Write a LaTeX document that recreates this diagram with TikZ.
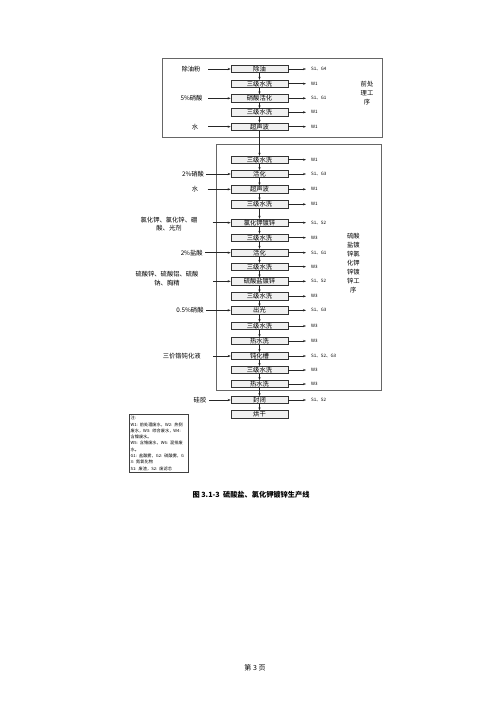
\documentclass[tikz,border=0pt]{standalone}
\usepackage{fontspec}
\newfontfamily\cjk{Noto Sans CJK SC}
\usetikzlibrary{arrows.meta}
\begin{document}
\begin{tikzpicture}[x=1pt,y=-1pt,font=\cjk,
  proc/.style={draw=black!80,fill=gray!12,line width=0.6pt,minimum width=57pt,minimum height=7.2pt,inner sep=0pt,font=\cjk\fontsize{6.3}{6.3}\selectfont},
  lbl/.style={font=\cjk\fontsize{6.3}{8.5}\selectfont,inner sep=0pt,align=center},
  outl/.style={font=\cjk\fontsize{4.5}{5}\selectfont,inner sep=0pt,anchor=west},
  sidel/.style={font=\cjk\fontsize{6.3}{9}\selectfont,inner sep=0pt,align=center},
  arr/.style={-{Stealth[length=3pt,width=2.2pt]},line width=0.5pt,black!85},
  frame/.style={draw=black!60,line width=0.9pt}]
\useasboundingbox (0,0) rectangle (500,707);
\fill[white] (0,0) rectangle (500,707);
% frames
\draw[frame] (162.7,58.3) rectangle (382,137.3);
\draw[frame] (216.7,144.3) rectangle (381,390);
% process boxes with outputs
\foreach \i/\y/\t/\o in {
  1/69/除油/S1、G4,
  2/83.7/三级水洗/W1,
  3/98.3/硝酸活化/S1、G1,
  4/112.3/三级水洗/W1,
  5/126.7/超声波/W1,
  6/159.7/三级水洗/W1,
  7/174/活化/S1、G3,
  8/189.3/超声波/W1,
  9/204.3/三级水洗/W1,
  10/222.7/氯化钾镀锌/S1、S2,
  11/237.7/三级水洗/W3,
  12/252.7/活化/S1、G1,
  13/266.7/三级水洗/W3,
  14/281.3/硫酸盐镀锌/S1、S2,
  15/296.3/三级水洗/W3,
  16/310.3/出光/S1、G3,
  17/326/三级水洗/W3,
  18/341/热水洗/W3,
  19/356/钝化槽/S1、S2、G3,
  20/370/三级水洗/W3,
  21/384/热水洗/W3,
  22/400/封闭/S1、S2}{
  \node[proc] (p\i) at (259.5,\y) {\t};
  \coordinate (q\i) at (306,\y);
  \node[outl] (o\i) at (311,\y) {\o};
  \draw[arr] (p\i.east) -- (q\i);
}
\node[proc] (p23) at (259.5,414.3) {烘干};
% vertical flow
\foreach \i [evaluate=\i as \j using int(\i+1)] in {1,...,22}{
  \draw[arr] (p\i) -- (p\j);
}
% inputs
\foreach \r/\lx/\ly/\ay/\sx/\t in {
  1/191/69/69/208/除油粉,
  3/191.5/98.3/98.3/208/5\%硝酸,
  5/195/126.7/126.7/208/水,
  7/193/174/174/206/2\%硝酸,
  8/195/189.3/189.3/207.7/水,
  10/169/224.3/222.7/212.7/{氯化钾、氯化锌、硼\\酸、光剂},
  12/191.7/252.7/252.7/205/2\%盐酸,
  14/167/278.8/281.3/213/{硫酸锌、硫酸铝、硫酸\\钠、胸精},
  16/190/310.3/310.3/206/0.5\%硝酸,
  19/181.7/356/356/213/三价铬钝化液,
  22/200/400/400/209/硅胶}{
  \node[lbl] (in\r) at (\lx,\ly) {\t};
  \coordinate (s\r) at (\sx,\ay);
  \draw[arr] (s\r) -- (p\r.west);
}
% side labels
\node[sidel] (side1) at (367,92.7) {前处\\理工\\序};
\node[sidel] (side2) at (353.3,263) {硫酸\\盐镀\\锌氯\\化钾\\锌镀\\锌工\\序};
% legend
\node[draw=black!75,line width=0.8pt,anchor=north west,text width=57pt,inner xsep=1.2pt,inner ysep=1.8pt,align=left,
  font=\cjk\fontsize{4.2}{6.3}\selectfont] (legend) at (129,414)
 {注:\\W1: 前处理废水，W2: 热侧\\废水，W3: 综合废水，W4:\\含镍废水。\\W5: 含铬废水，W6: 混排废\\水。\\G1: 盐酸雾，G2: 硫酸雾，G\\3: 氮氧化物\\S1: 废渣，S2: 废滤芯};
% caption
\node[font=\cjk\bfseries\fontsize{7.2}{8}\selectfont,inner sep=0pt] (cap) at (251,495) {图 3.1-3\ \ 硫酸盐、氯化钾镀锌生产线};
\node[font=\cjk\fontsize{7}{8}\selectfont,inner sep=0pt] (foot) at (255,668) {第 3 页};
\end{tikzpicture}
\end{document}
